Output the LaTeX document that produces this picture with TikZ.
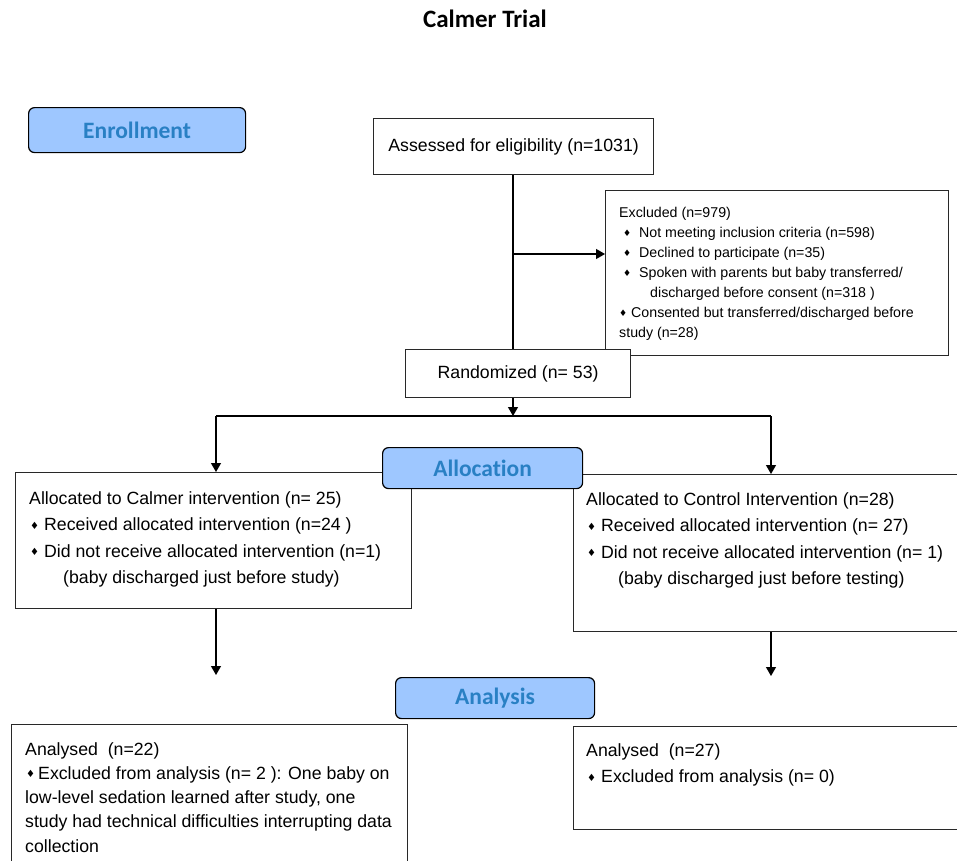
\documentclass[tikz,border=0pt]{standalone}
\usepackage{fontspec}
\setmainfont{Liberation Sans}
\newfontfamily\hdrfont[Ligatures=NoCommon]{Carlito}
\newfontfamily\symfont{DejaVu Sans}
\usetikzlibrary{arrows.meta}
\definecolor{hdrfill}{RGB}{158,199,255}
\definecolor{hdrtext}{RGB}{41,128,196}
\definecolor{boxline}{RGB}{40,40,40}
\newcommand{\dmd}[1][1pt]{\raisebox{#1}{\symfont\fontsize{9}{9}\selectfont ♦}}
\newcommand{\bdmd}{\raisebox{1.5pt}{\symfont\fontsize{10}{10}\selectfont ♦}}
\begin{document}
\begin{tikzpicture}[x=1pt,y=-1pt,
  box/.style={draw=boxline,line width=1.2pt,rectangle,inner sep=0pt,anchor=north west},
  hdr/.style={draw=black,line width=1.2pt,fill=hdrfill,rounded corners=6pt,inner sep=0pt,anchor=north west,
    font=\hdrfont\bfseries\fontsize{23.5}{23.5}\selectfont,text=hdrtext},
  txt/.style={anchor=base west,inner sep=0pt},
  big/.style={font=\fontsize{17.7}{26.5}\selectfont},
  small/.style={font=\fontsize{14.2}{20}\selectfont},
  ln/.style={line width=1.2pt,draw=black},
  arr/.style={line width=1.2pt,draw=black,-{Triangle[width=10pt,length=9pt]}}]

\clip (0,0) rectangle (957,860);
\fill[white] (0,0) rectangle (957,860);

% title
\node[anchor=base,inner sep=0pt,font=\hdrfont\bfseries\fontsize{25}{25}\selectfont] (title) at (485,27) {Calmer Trial};

% enrollment
\node[hdr,minimum width=217pt,minimum height=45pt] (enr) at (28,107) {Enrollment};
\node[box,big,minimum width=280pt,minimum height=56pt] (assess) at (373,118) {Assessed for eligibility (n=1031)};

\node[box,minimum width=343pt,minimum height=165pt] (excl) at (605,190) {};
\node[txt,small] (excltxt) at (619,217) {\begin{tabular}[t]{@{}l@{}}
Excluded (n=979)\\
\makebox[20pt][l]{\hspace{4pt}\dmd}Not meeting inclusion criteria (n=598)\\
\makebox[20pt][l]{\hspace{4pt}\dmd}Declined to participate (n=35)\\
\makebox[20pt][l]{\hspace{4pt}\dmd}Spoken with parents but baby transferred/\\
\hspace{31pt}discharged before consent (n=318 )\\
\makebox[12pt][l]{\dmd}Consented but transferred/discharged before\\
study (n=28)
\end{tabular}};

\node[box,big,fill=white,minimum width=225pt,minimum height=48pt] (rand) at (405,349) {Randomized (n= 53)};

\coordinate (exclin) at (513,254);
\draw[ln] (assess.south -| exclin) -- (rand.north -| exclin);
\draw[arr] (exclin) -- (exclin -| excl.west);

% allocation
\coordinate (split) at (513,416);
\coordinate (splitL) at (216,416);
\coordinate (splitR) at (771,416);
\draw[arr] (rand.south -| split) -- (split);
\draw[ln] (splitL) -- (splitR);

\node[box,minimum width=396pt,minimum height=136pt] (allocL) at (15,472) {};
\node[box,minimum width=400pt,minimum height=157pt] (allocR) at (573,474) {};
\draw[arr] (splitL) -- (splitL |- allocL.north);
\draw[arr] (splitR) -- (splitR |- allocR.north);

\node[txt,big] (allocLtxt) at (29,504) {\begin{tabular}[t]{@{}l@{}}
Allocated to Calmer intervention (n= 25)\\
\makebox[15pt][l]{\hspace{1pt}\bdmd}Received allocated intervention (n=24 )\\
\makebox[15pt][l]{\hspace{1pt}\bdmd}Did not receive allocated intervention (n=1)\\
\hspace{34pt}(baby discharged just before study)
\end{tabular}};

\node[txt,big] (allocRtxt) at (586,505) {\begin{tabular}[t]{@{}l@{}}
Allocated to Control Intervention (n=28)\\
\makebox[15pt][l]{\hspace{1pt}\bdmd}Received allocated intervention (n= 27)\\
\makebox[15pt][l]{\hspace{1pt}\bdmd}Did not receive allocated intervention (n= 1)\\
\hspace{32pt}(baby discharged just before testing)
\end{tabular}};

\node[hdr,minimum width=200pt,minimum height=41pt] (alloc) at (382,447) {Allocation};

% analysis
\coordinate (endL) at (216,675);
\coordinate (endR) at (771,676);
\draw[arr] (allocL.south -| endL) -- (endL);
\draw[arr] (allocR.south -| endR) -- (endR);

\node[hdr,minimum width=199pt,minimum height=41pt] (anal) at (395,677) {Analysis};

\node[box,minimum width=396pt,minimum height=150pt] (analL) at (11,724) {};
\node[box,minimum width=400pt,minimum height=103pt] (analR) at (573,726) {};

\node[txt,font=\fontsize{17.7}{24.3}\selectfont] (analLtxt) at (25,755) {\begin{tabular}[t]{@{}l@{}}
Analysed\ \ (n=22)\\
\makebox[13pt][l]{\hspace{1pt}\bdmd}Excluded from analysis (n= 2 ): One baby on\\
low-level sedation learned after study, one\\
study had technical difficulties interrupting data\\
collection
\end{tabular}};

\node[txt,big] (analRtxt) at (586,756) {\begin{tabular}[t]{@{}l@{}}
Analysed\ \ (n=27)\\
\makebox[15pt][l]{\hspace{1pt}\bdmd}Excluded from analysis (n= 0)
\end{tabular}};
\end{tikzpicture}
\end{document}
